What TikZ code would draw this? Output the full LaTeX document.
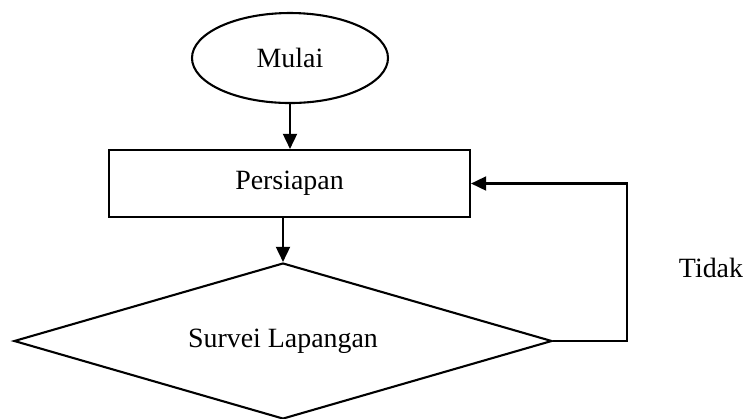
\documentclass[tikz,border=0pt]{standalone}
\usepackage{fontspec}
\setmainfont{Liberation Serif}
\usetikzlibrary{shapes.geometric,arrows.meta}

\begin{document}
\begin{tikzpicture}[x=0.43pt,y=-0.43pt,line width=0.9pt,font=\fontsize{12}{14}\selectfont,
  every node/.style={inner sep=0pt},
  panah/.style={-{Triangle[length=6.5pt,width=6pt]}}]
  \useasboundingbox (0,0) rectangle (752,418);
  \node[draw,ellipse,minimum width=196*0.43pt,minimum height=90*0.43pt] (mulai) at (290,58) {Mulai};
  \node[draw,rectangle,minimum width=361*0.43pt,minimum height=67*0.43pt] (persiapan) at (289.5,183.5) {Persiapan};
  \node[draw,diamond,aspect=3.45,minimum width=538*0.43pt,minimum height=156*0.43pt] (survei) at (283,341) {Survei Lapangan};
  \node (tidak) at (711,268) {Tidak};
  \coordinate (balik) at (627,341);

  \draw[panah] (mulai.south) -- (mulai.south |- persiapan.north);
  \draw[panah] (persiapan.south -| survei.north) -- (survei.north);
  \draw[panah] (survei.east) -- (balik) |- (persiapan.east);
\end{tikzpicture}
\end{document}
